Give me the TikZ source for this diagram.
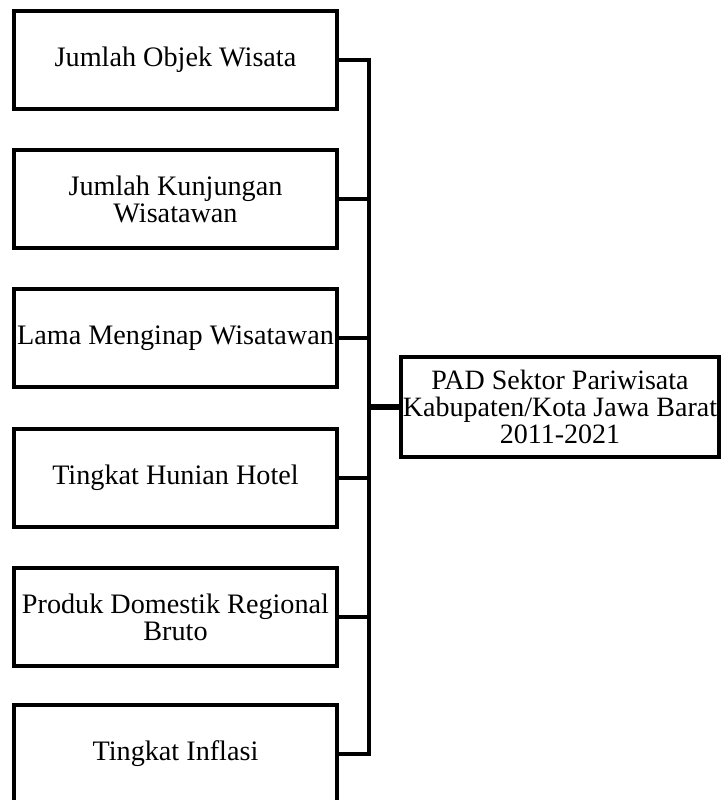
\documentclass[tikz,border=0pt]{standalone}
\usepackage{fontspec}
\setmainfont{Liberation Serif}
\begin{document}
\begin{tikzpicture}[x=1pt,y=-1pt,
  varbox/.style={draw=black, line width=3.8pt, minimum width=323pt, minimum height=98pt,
    inner sep=0pt, align=center, font=\fontsize{28.2}{27}\selectfont},
  padbox/.style={draw=black, line width=3.8pt, minimum width=318pt, minimum height=100pt,
    inner sep=0pt, align=center, font=\fontsize{28}{27}\selectfont},
  link/.style={draw=black, line width=3.2pt},
  spineline/.style={draw=black, line width=3.6pt, line cap=rect},
  padlink/.style={draw=black, line width=5.5pt}]
\useasboundingbox (0,0) rectangle (724,800);
\clip (0,0) rectangle (724,800);
\coordinate (sp) at (369,0);
\node[varbox] (b1) at (175.5,60) {Jumlah Objek Wisata};
\node[varbox] (b2) at (175.5,199) {Jumlah Kunjungan\\Wisatawan};
\node[varbox] (b3) at (175.5,338) {Lama Menginap Wisatawan};
\node[varbox] (b4) at (175.5,478) {Tingkat Hunian Hotel};
\node[varbox] (b5) at (175.5,617) {Produk Domestik Regional\\Bruto};
\node[varbox] (b6) at (175.5,754) {Tingkat Inflasi};
\node[padbox] (pad) at (560,407) {PAD Sektor Pariwisata\\Kabupaten/Kota Jawa Barat\\2011-2021};
\foreach \b in {b1,b2,b3,b4,b5,b6}{
  \draw[link] (\b.east) -- (\b.east -| sp);
}
\draw[spineline] (b1.east -| sp) -- (b6.east -| sp);
\draw[padlink] (pad.west) -- (pad.west -| sp);
\end{tikzpicture}
\end{document}
